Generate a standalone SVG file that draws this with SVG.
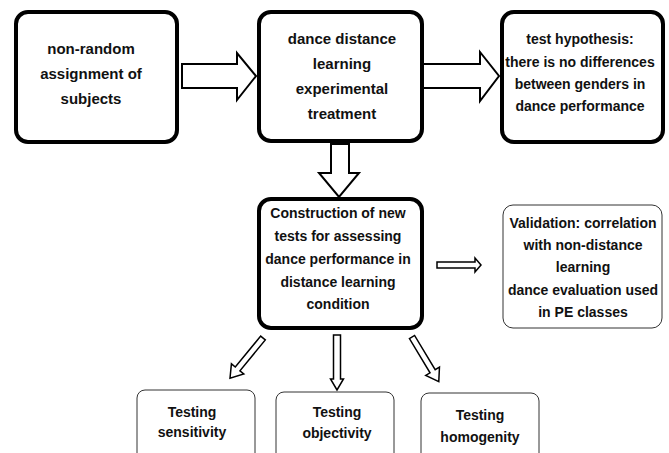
<svg xmlns="http://www.w3.org/2000/svg" width="669" height="453" viewBox="0 0 669 453">
<style>
.thick{fill:#fff;stroke:#000;stroke-width:4}
.thin{fill:#fff;stroke:#333;stroke-width:1}
.arr{fill:#fff;stroke:#000;stroke-width:2;stroke-linejoin:miter}
.arr2{fill:#fff;stroke:#000;stroke-width:1.5;stroke-linejoin:miter}
text{font-family:"Liberation Sans",Arial,sans-serif;font-weight:bold;font-size:14px;fill:#111;text-anchor:middle;dominant-baseline:central}
.lg{font-size:15px}
</style>
<rect width="669" height="453" fill="#fff"/>
<g id="connectors">
<polygon class="arr" points="182,64 237,64 237,53 256,76 237,100 237,88 182,88"/>
<polygon class="arr" points="423,64 480,64 480,52 499,76 480,101 480,88 423,88"/>
<polygon class="arr" points="331,144 349,144 349,173 359,173 339,197 319,173 331,173"/>
<polygon class="arr2" points="437,262 475,262 475,258 481,265 475,272 475,268 437,268"/>
<polygon class="arr2" transform="translate(263,338) rotate(39.4)" points="-3,0 3,0 3,40 8,40 0,52 -8,40 -3,40"/>
<polygon class="arr2" transform="translate(337,335)" points="-3.5,0 3.5,0 3.5,44 6.5,44 0,55 -6.5,44 -3.5,44"/>
<polygon class="arr2" transform="translate(412,337) rotate(-31)" points="-3,0 3,0 3,40 8,40 0,52 -8,40 -3,40"/>
</g>
<g id="n1">
<rect class="thick" x="16" y="12" width="161" height="130" rx="12"/>
<text class="lg" x="91" y="48">non-random</text>
<text class="lg" x="91" y="73">assignment of</text>
<text class="lg" x="91" y="98">subjects</text>
</g>
<g id="n2">
<rect class="thick" x="259" y="12" width="163" height="129" rx="12"/>
<text class="lg" x="342" y="38">dance distance</text>
<text class="lg" x="342" y="63">learning</text>
<text class="lg" x="342" y="88">experimental</text>
<text class="lg" x="342" y="113">treatment</text>
</g>
<g id="n3">
<rect class="thick" x="502" y="12" width="161" height="130" rx="12"/>
<text x="580" y="39">test hypothesis:</text>
<text x="580" y="62">there is no differences</text>
<text x="580" y="84">between genders in</text>
<text x="580" y="106">dance performance</text>
</g>
<g id="n4">
<rect class="thick" x="259" y="199" width="163" height="129" rx="12"/>
<text x="338" y="213">Construction  of new</text>
<text x="338" y="236">tests for assessing</text>
<text x="338" y="259">dance performance in</text>
<text x="338" y="282">distance learning</text>
<text x="338" y="304">condition</text>
</g>
<g id="n5">
<rect class="thin" x="503" y="205" width="159" height="123" rx="10"/>
<text x="583" y="223">Validation:  correlation</text>
<text x="583" y="245">with non-distance</text>
<text x="583" y="267">learning</text>
<text x="583" y="290">dance evaluation used</text>
<text x="583" y="312">in PE classes</text>
</g>
<g id="n6">
<rect class="thin" x="137" y="390" width="118" height="75" rx="8"/>
<text x="192" y="412">Testing</text>
<text x="192" y="432">sensitivity</text>
</g>
<g id="n7">
<rect class="thin" x="276" y="392" width="118" height="75" rx="8"/>
<text x="337" y="412">Testing</text>
<text x="337" y="433">objectivity</text>
</g>
<g id="n8">
<rect class="thin" x="421" y="393" width="118" height="75" rx="8"/>
<text x="480" y="415">Testing</text>
<text x="480" y="437">homogenity</text>
</g>
</svg>
